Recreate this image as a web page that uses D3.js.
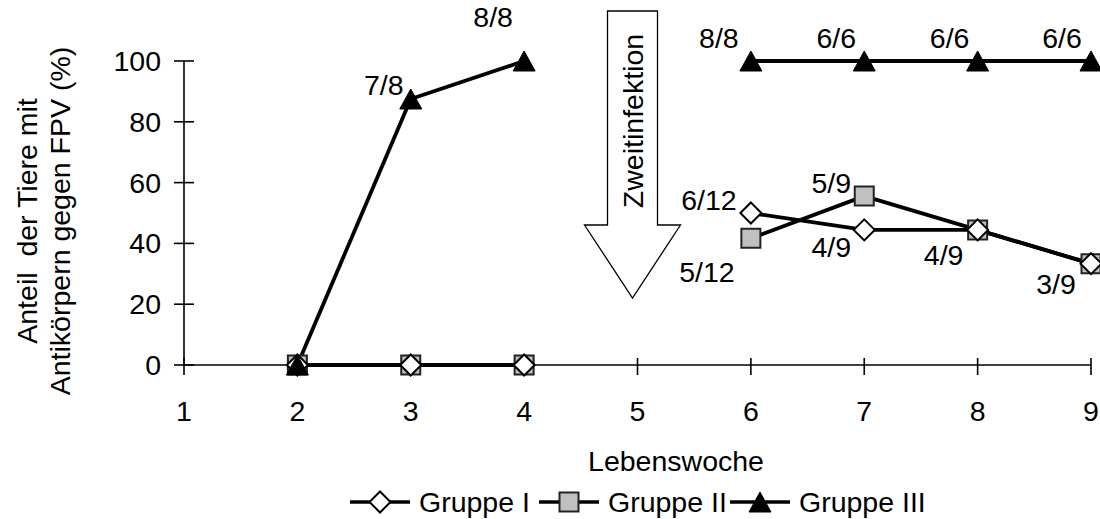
<!DOCTYPE html>
<html>
<head>
<meta charset="utf-8">
<script src="https://cdn.jsdelivr.net/npm/d3@7/dist/d3.min.js"></script>
<style>
  html, body { margin: 0; padding: 0; background: #fff; }
  svg text { font-family: "Liberation Sans", Arial, sans-serif; fill: #000; }
</style>
</head>
<body>
<svg id="chart" width="1100" height="519"></svg>
<script>
// Lebenswochen (x categories) and y ticks
const wochen = [2, 3, 4, 5, 6, 7, 8, 9];
const xTicks = [1, 2, 3, 4, 5, 6, 7, 8, 9];
const yTicks = [0, 20, 40, 60, 80, 100];

// Positive animals / tested animals per week (null = no sample)
const gruppe1Pos = [0, 0, 0, null, 6, 4, 4, 3];
const gruppe1Tot = [null, null, null, null, 12, 9, 9, 9];
const gruppe2Pos = [0, 0, 0, null, 5, 5, 4, 3];
const gruppe2Tot = [null, null, null, null, 12, 9, 9, 9];
const gruppe3Pos = [0, 7, 8, null, 8, 6, 6, 6];
const gruppe3Tot = [null, 8, 8, null, 8, 6, 6, 6];

// Which points carry a "n/N" label
const gruppe1Labelled = [false, false, false, false, true, true, true, true];
const gruppe2Labelled = [false, false, false, false, true, true, false, false];
const gruppe3Labelled = [false, true, true, false, true, true, true, true];

const seriesNames = ["Gruppe I", "Gruppe II", "Gruppe III"];

function percent(pos, tot) {
  if (pos === null) return null;
  return tot ? pos / tot * 100 : 0;
}
function buildSeries(pos, tot, labelled) {
  return wochen.map((w, i) => ({
    woche: w,
    value: percent(pos[i], tot[i]),
    label: labelled[i] ? `${pos[i]}/${tot[i]}` : null
  }));
}
const series = [
  { name: seriesNames[0], marker: "diamond", data: buildSeries(gruppe1Pos, gruppe1Tot, gruppe1Labelled) },
  { name: seriesNames[1], marker: "square", data: buildSeries(gruppe2Pos, gruppe2Tot, gruppe2Labelled) },
  { name: seriesNames[2], marker: "triangle", data: buildSeries(gruppe3Pos, gruppe3Tot, gruppe3Labelled) }
];

// label offsets (text centre relative to the point)
const labelOffsets = {
  "Gruppe I-6": [-42, -13], "Gruppe I-7": [-33, 17], "Gruppe I-8": [-34, 25], "Gruppe I-9": [-35, 20],
  "Gruppe II-6": [-44, 34], "Gruppe II-7": [-33, -13],
  "Gruppe III-3": [-27, -14], "Gruppe III-4": [-31, -44],
  "Gruppe III-6": [-32, -23], "Gruppe III-7": [-28, -23], "Gruppe III-8": [-28, -23], "Gruppe III-9": [-29, -23]
};

const svg = d3.select("#chart");
const FONT = 28.5;

const x = d3.scaleLinear().domain([1, 9]).range([184, 1091]);
const y = d3.scaleLinear().domain([0, 100]).range([365, 61]);

// axes
const axisColor = "#000";
svg.append("line").attr("x1", x(1)).attr("x2", x(9)).attr("y1", y(0)).attr("y2", y(0))
  .attr("stroke", axisColor).attr("stroke-width", 1.6);
svg.append("line").attr("x1", x(1)).attr("x2", x(1)).attr("y1", y(0)).attr("y2", y(100))
  .attr("stroke", axisColor).attr("stroke-width", 1.6);

svg.selectAll(".xtick").data(xTicks).join("line")
  .attr("x1", d => x(d)).attr("x2", d => x(d))
  .attr("y1", y(0) - 7).attr("y2", y(0) + 10)
  .attr("stroke", axisColor).attr("stroke-width", 1.6);
svg.selectAll(".xlabel").data(xTicks).join("text")
  .attr("x", d => x(d)).attr("y", 421)
  .attr("text-anchor", "middle").attr("font-size", FONT)
  .text(d => d);

svg.selectAll(".ytick").data(yTicks).join("line")
  .attr("x1", x(1) - 10).attr("x2", x(1) + 10)
  .attr("y1", d => y(d)).attr("y2", d => y(d))
  .attr("stroke", axisColor).attr("stroke-width", 1.6);
svg.selectAll(".ylabel").data(yTicks).join("text")
  .attr("x", 161).attr("y", d => y(d) + 10)
  .attr("text-anchor", "end").attr("font-size", FONT)
  .text(d => d);

// axis titles
svg.append("text").attr("x", 676).attr("y", 471).attr("text-anchor", "middle")
  .attr("font-size", FONT).text("Lebenswoche");
const yTitle = svg.append("text").attr("transform", "translate(0,221) rotate(-90)")
  .attr("text-anchor", "middle").attr("font-size", FONT);
yTitle.append("tspan").attr("x", 0).attr("y", 37).text("Anteil\u00a0 der Tiere mit");
yTitle.append("tspan").attr("x", 0).attr("y", 70).text("Antikörpern gegen FPV (%)");

// "Zweitinfektion" arrow at week 5
const ax = x(5) - 5;
const arrowPts = [
  [ax - 25, 11], [ax + 25, 11], [ax + 25, 225], [ax + 48, 225],
  [ax, 298], [ax - 48, 225], [ax - 25, 225]
];
svg.append("polygon").attr("points", arrowPts.map(p => p.join(",")).join(" "))
  .attr("fill", "#fff").attr("stroke", "#000").attr("stroke-width", 1.3);
svg.append("text").attr("transform", `translate(${ax + 10},121) rotate(-90)`)
  .attr("text-anchor", "middle").attr("font-size", FONT).text("Zweitinfektion");

// marker shapes
function markerPath(type) {
  if (type === "diamond") return "M0,-10.5L10.5,0L0,10.5L-10.5,0Z";
  if (type === "square") return "M-9.5,-9.5H9.5V9.5H-9.5Z";
  return "M0,-10L11,10L-11,10Z";
}
const markerStyle = {
  diamond: { fill: "#fff", stroke: "#000", sw: 2 },
  square: { fill: "#c0c0c0", stroke: "#222", sw: 2 },
  triangle: { fill: "#000", stroke: "#000", sw: 1 }
};

const line = d3.line()
  .defined(d => d.value !== null)
  .x(d => x(d.woche)).y(d => y(d.value));

// lines
const drawOrder = [series[1], series[0], series[2]];
drawOrder.forEach(s => {
  svg.append("path").datum(s.data).attr("d", line)
    .attr("fill", "none").attr("stroke", "#000").attr("stroke-width", 3.8)
    .attr("stroke-linejoin", "round");
});
// markers
drawOrder.forEach(s => {
  const st = markerStyle[s.marker];
  svg.selectAll(null).data(s.data.filter(d => d.value !== null)).join("path")
    .attr("transform", d => `translate(${x(d.woche)},${y(d.value)})`)
    .attr("d", markerPath(s.marker))
    .attr("fill", st.fill).attr("stroke", st.stroke).attr("stroke-width", st.sw);
});
// data labels
series.forEach(s => {
  s.data.filter(d => d.label).forEach(d => {
    const off = labelOffsets[`${s.name}-${d.woche}`] || [0, -20];
    svg.append("text")
      .attr("x", x(d.woche) + off[0]).attr("y", y(d.value) + off[1] + 10)
      .attr("text-anchor", "middle").attr("font-size", FONT)
      .text(d.label);
  });
});

// legend
const legendItems = [
  { s: series[0], x0: 350 },
  { s: series[1], x0: 539 },
  { s: series[2], x0: 730 }
];
const ly = 502;
legendItems.forEach(it => {
  const g = svg.append("g");
  g.append("line").attr("x1", it.x0).attr("x2", it.x0 + 60).attr("y1", ly).attr("y2", ly)
    .attr("stroke", "#000").attr("stroke-width", 3.5);
  const st = markerStyle[it.s.marker];
  g.append("path").attr("transform", `translate(${it.x0 + 30},${ly})`)
    .attr("d", markerPath(it.s.marker))
    .attr("fill", st.fill).attr("stroke", st.stroke).attr("stroke-width", st.sw);
  g.append("text").attr("x", it.x0 + 69).attr("y", ly + 10).attr("font-size", FONT).text(it.s.name);
});
</script>
</body>
</html>
